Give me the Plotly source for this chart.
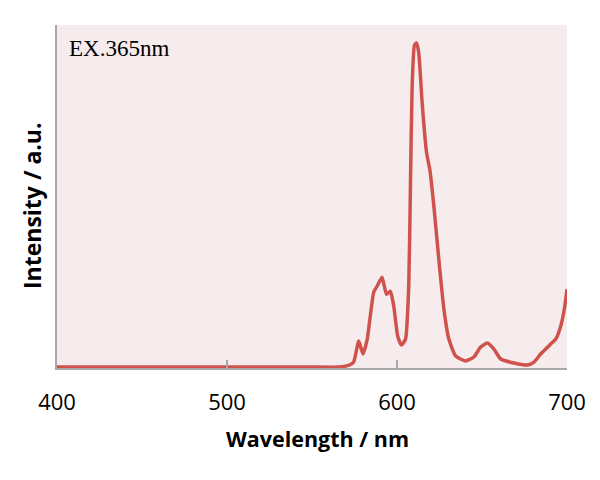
import plotly.graph_objects as go

wavelength = [400, 450, 500, 550, 566, 572, 574.5, 577.5, 580, 582.5, 586.3, 588.3, 591.2,
              593.8, 596.1, 598.1, 600.4, 602.6, 605, 606.9, 607.9, 608.9, 610.3, 611.5,
              612.8, 614.8, 617.4, 619.3, 621.7, 624.6, 627.6, 630.5, 634.5, 640.3, 645.2,
              649.2, 653.1, 657, 661, 668.8, 676.7, 680.6, 684.5, 690.4, 693.4, 696.3,
              698.7, 700]
intensity = [0, 0, 0, 0, 0, 2, 5, 26, 13, 28, 75, 81, 90,
             73, 76, 61, 31, 22, 28, 81, 181, 281, 323, 325,
             315, 265, 215, 198, 161, 108, 58, 28, 11, 6, 10,
             20, 24, 18, 8, 4, 2, 5, 13, 23, 28, 41,
             61, 78]

x_ticks = [400, 500, 600, 700]
annotation_text = "EX.365nm"
x_title = "Wavelength / nm"
y_title = "Intensity / a.u."

PLOT_H = 343  # plot area height in px
PLOT_W = 510

fig = go.Figure()
fig.add_trace(go.Scatter(
    x=wavelength, y=intensity, mode="lines",
    line=dict(color="#d0524c", width=3.5, shape="spline", smoothing=0.5),
    hoverinfo="skip", showlegend=False,
))

fig.update_layout(
    width=600, height=480,
    margin=dict(l=57, r=33, t=25, b=112),
    paper_bgcolor="white",
    plot_bgcolor="#f6ecee",
    xaxis=dict(
        range=[400, 700], tickvals=x_ticks, ticktext=[str(v) for v in x_ticks],
        showgrid=False, zeroline=False,
        showline=True, linecolor="#a8a8a8", linewidth=2,
        ticks="inside", ticklen=8, tickwidth=2, tickcolor="#a8a8a8",
        ticklabelstandoff=14,
        tickfont=dict(family="Open Sans", size=22, color="black"),
    ),
    yaxis=dict(
        range=[-1, 343], showticklabels=False, ticks="",
        showgrid=False, zeroline=False,
        showline=True, linecolor="#a8a8a8", linewidth=2,
    ),
    annotations=[
        dict(text=annotation_text, xref="paper", yref="paper", x=0.02, y=0.975,
             xanchor="left", yanchor="top", showarrow=False,
             font=dict(family="Liberation Serif", size=23, color="black")),
        dict(text="<b>" + x_title + "</b>", xref="paper", yref="paper",
             x=(317 - 57) / PLOT_W, y=-(438 - 368) / PLOT_H,
             xanchor="center", yanchor="middle", showarrow=False,
             font=dict(family="Open Sans", size=21.5, color="black")),
        dict(text="<b>" + y_title + "</b>", xref="paper", yref="paper",
             x=(32 - 57) / PLOT_W, y=(368 - 206) / PLOT_H, textangle=-90,
             xanchor="center", yanchor="middle", showarrow=False,
             font=dict(family="Open Sans", size=23, color="black")),
    ],
)

fig.write_html("out.html")
